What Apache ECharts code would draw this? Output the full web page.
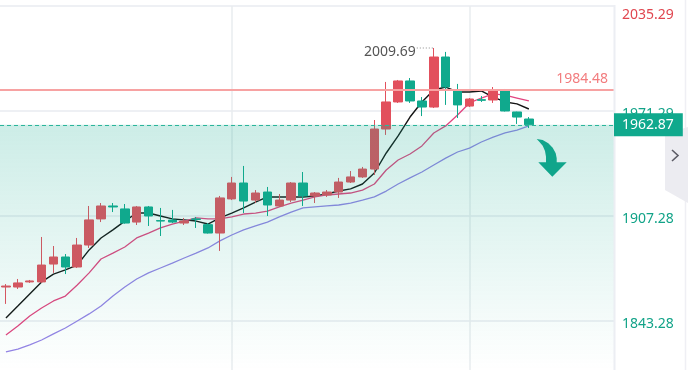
<!DOCTYPE html>
<html><head><meta charset="utf-8">
<script src="https://cdn.jsdelivr.net/npm/echarts@6/dist/echarts.min.js"></script>
<style>html,body{margin:0;padding:0;background:#fff}#c{width:688px;height:370px}</style>
</head><body><div id="c"></div>
<script>
const categories = ['K1','K2','K3','K4','K5','K6','K7','K8','K9','K10','K11','K12','K13','K14','K15','K16','K17','K18','K19','K20','K21','K22','K23','K24','K25','K26','K27','K28','K29','K30','K31','K32','K33','K34','K35','K36','K37','K38','K39','K40','K41','K42','K43','K44','K45'];
// [open, close, low, high]
const ohlc = [
 [1864.0,1864.6,1853.7,1865.8],[1864.0,1866.5,1862.8,1868.9],[1867.1,1867.7,1866.5,1868.3],[1867.1,1877.4,1866.5,1894.5],
 [1878.0,1882.3,1872.6,1889.0],[1882.3,1876.2,1871.9,1884.1],[1876.2,1889.6,1875.6,1893.9],[1889.6,1904.9,1887.8,1913.4],
 [1905.5,1913.4,1903.6,1915.2],[1913.4,1912.8,1909.7,1915.2],[1911.6,1903.0,1902.6,1914.6],[1903.6,1912.8,1901.8,1913.4],
 [1912.8,1907.3,1901.2,1913.4],[1904.5,1904.2,1895.1,1912.2],[1904.8,1903.6,1903.0,1911.0],[1903.0,1904.2,1901.8,1906.1],
 [1905.5,1905.2,1900.0,1906.7],[1902.0,1896.9,1896.6,1903.0],[1896.9,1918.3,1886.0,1919.5],[1917.7,1927.4,1917.0,1931.1],
 [1927.4,1916.4,1909.1,1937.8],[1917.0,1921.3,1915.2,1923.1],[1921.9,1914.0,1907.3,1925.0],[1913.4,1917.0,1912.8,1920.7],
 [1917.0,1927.4,1915.8,1928.0],[1927.4,1919.5,1913.4,1934.1],[1919.5,1921.3,1915.2,1921.9],[1920.1,1921.9,1918.9,1923.1],
 [1921.9,1928.0,1918.3,1930.5],[1928.0,1931.1,1927.4,1934.7],[1931.1,1935.9,1930.5,1937.2],[1935.9,1960.3,1932.3,1965.8],
 [1960.3,1976.8,1956.7,1989.0],[1976.8,1989.6,1976.2,1990.2],[1989.6,1977.4,1976.2,1991.4],[1977.4,1973.7,1968.2,1979.8],
 [1973.7,2004.2,1973.1,2009.69],[2004.2,1985.9,1975.0,2007.3],[1984.1,1975.0,1967.0,1987.8],[1974.3,1978.6,1973.7,1979.2],
 [1978.2,1977.8,1976.8,1980.4],[1978.0,1984.1,1976.2,1985.9],[1984.1,1971.3,1971.0,1984.7],[1970.7,1967.6,1963.4,1970.9],
 [1966.4,1962.87,1960.9,1967.6]
];
const ma5 = [1845.1,1852.4,1859.8,1867.1,1871.9,1874.4,1877.4,1886.6,1893.9,1898.8,1904.2,1909.1,1909.1,1907.3,1905.5,1904.9,1904.2,1902.4,1906.1,1909.1,1912.2,1915.8,1918.9,1918.9,1918.9,1918.9,1919.5,1920.7,1922.5,1923.8,1926.8,1933.5,1945.7,1956.1,1967.6,1976.8,1984.1,1985.9,1982.9,1982.9,1983.5,1979.8,1976.8,1975.6,1972.5];
const ma10 = [1834.8,1840.2,1846.3,1851.2,1855.5,1858.5,1865.2,1872.6,1881.1,1884.7,1888.4,1893.9,1896.9,1900.0,1902.4,1904.2,1906.1,1905.5,1905.5,1906.7,1908.5,1909.1,1910.3,1912.8,1915.2,1917.0,1918.9,1920.1,1920.7,1921.3,1923.1,1926.8,1935.3,1941.4,1945.1,1950.0,1957.9,1962.2,1968.9,1976.2,1979.2,1981.7,1981.0,1979.2,1977.4];
const ma20 = [1824.4,1826.2,1828.7,1831.7,1835.4,1839.0,1843.3,1847.6,1852.4,1858.5,1864.0,1868.9,1872.6,1875.6,1878.6,1881.7,1884.7,1887.8,1892.1,1895.7,1898.8,1901.2,1903.6,1906.7,1909.7,1912.2,1912.8,1913.4,1914.0,1915.2,1917.0,1918.9,1922.5,1926.8,1930.5,1934.1,1938.4,1942.6,1946.3,1948.7,1952.4,1955.4,1957.9,1959.7,1962.2];
const yTicks = [1843.28, 1907.28, 1971.29, 2035.29];
const lastPrice = 1962.87;
const refLevel = 1984.48;
const highPoint = 2009.69;
const highIndex = 36;
const yMin = 1813.42, yMax = 2035.29;

const FONT = 'Noto Sans';
const UP = '#e2505d', DOWN = '#10a98d';
const chart = echarts.init(document.getElementById('c'), null, {renderer: 'canvas'});

const arrowPts = [[536.7,139],[542.7,140],[548.3,143.3],[552.7,147.7],[555.7,153.3],[556.7,158.3],[556.7,162.3],[566.7,162.3],[552.3,176.7],[538.3,162.3],[546,162.3],[546,156.7],[545,151],[542.7,145.7],[539.3,141.7]];

chart.setOption({
  animation: false,
  grid: {left: -1, right: 70, top: 6, bottom: 0, containLabel: false},
  xAxis: {type: 'category', data: categories, max: 51, boundaryGap: true,
    axisLine: {show: false}, axisTick: {show: false}, axisLabel: {show: false}, splitLine: {show: false}},
  yAxis: [
    {type: 'value', min: yMin, max: yMax, show: false, splitLine: {show: false}},
    {type: 'value', min: yMin, max: yMax, position: 'right', offset: -4, z: 20,
      axisLine: {show: false}, axisTick: {show: false}, splitLine: {show: false},
      axisLabel: {customValues: yTicks, margin: 8, align: 'left',
        formatter: function (v) { return v >= yMax - 0.01 ? '{t|' + v.toFixed(2) + '}' : '{b|' + v.toFixed(2) + '}'; },
        rich: {
          t: {color: '#e0464f', fontSize: 14, fontFamily: FONT, padding: [19, 0, 0, 0]},
          b: {color: '#12a388', fontSize: 14, fontFamily: FONT, padding: [6, 0, 0, 0]}
        }}},
    {type: 'value', min: yMin, max: yMax, position: 'right', offset: -4, z: 21,
      axisLine: {show: false}, axisTick: {show: false}, splitLine: {show: false},
      axisLabel: {customValues: [lastPrice], margin: 0, align: 'left',
        formatter: function (v) { return v.toFixed(2); },
        color: '#fff', backgroundColor: '#10a98d', fontSize: 14, fontFamily: FONT,
        lineHeight: 17, padding: [3, 9, 3, 8]}}
  ],
  series: [
    {type: 'candlestick', name: 'K', data: ohlc, barWidth: 9, z: 2,
      itemStyle: {color: UP, color0: DOWN, borderColor: UP, borderColor0: DOWN, borderWidth: 1},
      markArea: {z: 3, silent: true, label: {show: false},
        itemStyle: {color: {type: 'linear', x: 0, y: 0, x2: 0, y2: 1,
          colorStops: [{offset: 0, color: 'rgba(16,169,141,0.21)'}, {offset: 1, color: 'rgba(16,169,141,0)'}]}},
        data: [[{yAxis: lastPrice}, {yAxis: yMin}]]},
      markLine: {z: 5, silent: true, symbol: 'none',
        data: [
          {yAxis: lastPrice, lineStyle: {color: '#2bb59b', type: [4, 3], width: 1}, label: {show: false}},
          {yAxis: refLevel, lineStyle: {color: '#f7a2a2', type: 'solid', width: 2},
            label: {show: true, position: 'insideEndTop', distance: [10, 3], formatter: refLevel.toFixed(2),
              color: '#f27c7e', fontSize: 14, fontFamily: FONT}}
        ]},
      markPoint: {z: 6, silent: true,
        data: [{coord: [categories[highIndex], highPoint], value: highPoint}],
        symbol: 'path://M0,0h1v1h-1zM3,0h1v1h-1zM6,0h1v1h-1zM9,0h1v1h-1zM12,0h1v1h-1zM15,0h1v1h-1z',
        symbolSize: [16, 1.2], symbolOffset: [-9, 0], itemStyle: {color: '#8a8a8a'},
        label: {show: true, position: 'left', distance: 1, offset: [0, 4],
          formatter: function () { return highPoint.toFixed(2); }, color: '#555', fontSize: 14, fontFamily: FONT}}
    },
    {type: 'line', name: 'MA5', data: ma5, symbol: 'none', z: 2, lineStyle: {color: '#151515', width: 1.4}},
    {type: 'line', name: 'MA10', data: ma10, symbol: 'none', z: 2, lineStyle: {color: '#e2447f', width: 1.3}},
    {type: 'line', name: 'MA20', data: ma20, symbol: 'none', z: 2, lineStyle: {color: '#9583e6', width: 1.3},
      markLine: {z: 1, silent: true, symbol: 'none', label: {show: false},
        lineStyle: {color: '#eef0f4', type: 'solid', width: 2},
        data: [
          {yAxis: yTicks[0]}, {yAxis: yTicks[1]}, {yAxis: yTicks[2]}, {yAxis: yTicks[3]},
          {xAxis: categories[19], lineStyle: {color: '#e8ecef', width: 1.5}},
          {xAxis: categories[39], lineStyle: {color: '#e8ecef', width: 1.5}}
        ]}}
  ],
  graphic: [
    {type: 'rect', z: 10, silent: true, shape: {x: 614, y: 0, width: 74, height: 370}, style: {fill: '#fff'}},
    {type: 'line', z: 11, silent: true, shape: {x1: 614.5, y1: 5, x2: 614.5, y2: 370}, style: {stroke: '#eceef3', lineWidth: 2}},
    {type: 'line', z: 11, silent: true, shape: {x1: 685.5, y1: 0, x2: 685.5, y2: 370}, style: {stroke: '#efeff4', lineWidth: 1.5}},
    {type: 'polygon', z: 11, silent: true, shape: {points: [[665,134],[688,127],[688,203],[665,190]]}, style: {fill: '#ececf1'}},
    {type: 'polyline', z: 12, silent: true, shape: {points: [[672,150],[678,155.5],[672,161]]}, style: {stroke: '#5c5c66', lineWidth: 1.6, fill: null}},
    {type: 'polygon', z: 12, silent: true, shape: {points: arrowPts}, style: {fill: '#10a58b'}}
  ]
});
</script></body></html>
